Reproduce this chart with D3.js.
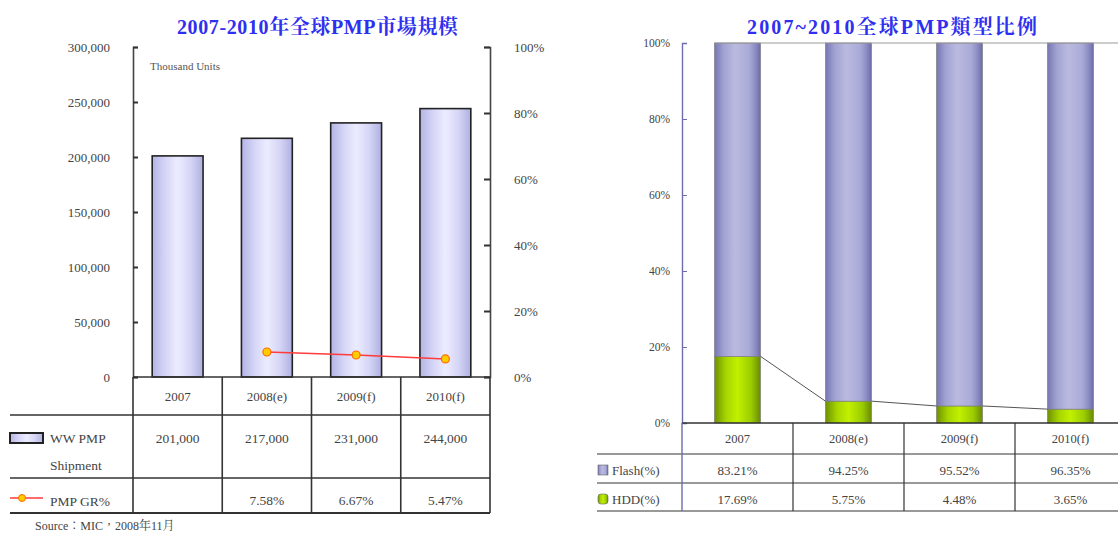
<!DOCTYPE html>
<html>
<head>
<meta charset="utf-8">
<script src="https://cdn.jsdelivr.net/npm/d3@7"></script>
<style>
  body { margin: 0; background: #fff; }
  text { font-family: "Liberation Serif", "Noto Serif CJK TC", "Noto Sans CJK TC", serif; }
</style>
</head>
<body>
<svg id="chart" width="1118" height="534"></svg>
<script>
// data
const years = ["2007", "2008(e)", "2009(f)", "2010(f)"];
const shipment = [201000, 217000, 231000, 244000];
const shipLabels = ["201,000", "217,000", "231,000", "244,000"];
const growth = [null, 7.58, 6.67, 5.47];
const growthLabels = ["", "7.58%", "6.67%", "5.47%"];
const flashPct = [83.21, 94.25, 95.52, 96.35];
const hddPct = [17.69, 5.75, 4.48, 3.65];
const shipTicks = [0, 50000, 100000, 150000, 200000, 250000, 300000];
const pctTicks = [0, 20, 40, 60, 80, 100];

const svg = d3.select("#chart");
const defs = svg.append("defs");

function hGrad(id, stops) {
  const g = defs.append("linearGradient").attr("id", id)
    .attr("x1", "0%").attr("x2", "100%").attr("y1", "0%").attr("y2", "0%");
  stops.forEach(s => g.append("stop").attr("offset", s[0]).attr("stop-color", s[1]));
}
hGrad("lavender", [["0%", "#b4b4e6"], ["25%", "#d4d4f6"], ["50%", "#ececff"], ["75%", "#d6d6f6"], ["100%", "#b0b0e2"]]);
hGrad("purple", [["0%", "#7676b4"], ["20%", "#a2a2d2"], ["45%", "#babae0"], ["75%", "#aaaad8"], ["90%", "#8a8ac2"], ["100%", "#6a6aa8"]]);
hGrad("green", [["0%", "#6f9000"], ["25%", "#a6d600"], ["50%", "#c2f000"], ["80%", "#9acc00"], ["100%", "#6a8a00"]]);

const txt = "#444";

/**
 * LEFT CHART: SHIPMENT + GROWTH
 */
const L = svg.append("g");

const xL = d3.scaleBand().domain(years).range([133, 490]).paddingInner(0.43).paddingOuter(0.215);
const yL = d3.scaleLinear().domain([0, 300000]).range([377, 47]);
const yR = d3.scaleLinear().domain([0, 100]).range([377, 47]);

L.append("text").attr("x", 177).attr("y", 34)
  .attr("textLength", 281).attr("lengthAdjust", "spacing")
  .attr("font-size", 20).attr("font-weight", "bold").attr("fill", "#2f2ff0")
  .text("2007-2010年全球PMP市場規模");

L.append("text").attr("x", 150).attr("y", 70).attr("font-size", 11).attr("fill", "#555")
  .text("Thousand Units");

// bars
L.selectAll("rect.ship").data(shipment).join("rect")
  .attr("class", "ship")
  .attr("x", (d, i) => xL(years[i]))
  .attr("y", d => yL(d))
  .attr("width", xL.bandwidth())
  .attr("height", d => yL(0) - yL(d))
  .attr("fill", "url(#lavender)")
  .attr("stroke", "#222").attr("stroke-width", 1.6);

// axes
const axL = L.append("g").attr("transform", "translate(133,0)")
  .call(d3.axisLeft(yL).tickValues(shipTicks).tickFormat(d3.format(",")).tickSizeInner(-5).tickSizeOuter(-5).tickPadding(23));
const axR = L.append("g").attr("transform", "translate(490,0)")
  .call(d3.axisRight(yR).tickValues(pctTicks).tickFormat(d => d + "%").tickSizeInner(-6).tickSizeOuter(-6).tickPadding(24));
[axL, axR].forEach(a => {
  a.select(".domain").attr("stroke", "#444").attr("stroke-width", 1.6);
  a.selectAll(".tick line").attr("stroke", "#333").attr("stroke-width", 2);
  a.selectAll("text").attr("font-size", 13).attr("fill", txt)
    .attr("font-family", "Liberation Serif, serif");
});

// growth line
const gPts = growth.map((g, i) => ({ g, x: xL(years[i]) + xL.bandwidth() / 2 })).filter(d => d.g != null);
L.append("path").datum(gPts)
  .attr("d", d3.line().x(d => d.x).y(d => yR(d.g)))
  .attr("fill", "none").attr("stroke", "#ff3b3b").attr("stroke-width", 1.5);
L.selectAll("circle.gr").data(gPts).join("circle")
  .attr("class", "gr")
  .attr("cx", d => d.x).attr("cy", d => yR(d.g)).attr("r", 4)
  .attr("fill", "#ffcc00").attr("stroke", "#ff6a00").attr("stroke-width", 1.2);

// table
const stepL = xL.step();
const colsL = d3.range(years.length + 1).map(i => 133 + i * stepL);
const rowsL = [377, 415, 478, 513];
L.selectAll("line.hrow").data(rowsL).join("line")
  .attr("x1", (d, i) => i === 0 ? 133 : 10).attr("x2", 490)
  .attr("y1", d => d).attr("y2", d => d)
  .attr("stroke", "#333").attr("stroke-width", (d, i) => i === 3 ? 2.2 : 1.6);
L.selectAll("line.vcol").data(colsL).join("line")
  .attr("x1", d => d).attr("x2", d => d).attr("y1", 377).attr("y2", 513)
  .attr("stroke", "#333").attr("stroke-width", 1.6);

const centerL = i => xL(years[i]) + xL.bandwidth() / 2;
L.selectAll("text.hdr").data(years).join("text")
  .attr("x", (d, i) => centerL(i)).attr("y", 401).attr("text-anchor", "middle")
  .attr("font-size", 13).attr("fill", txt).text(d => d);
L.selectAll("text.shipv").data(shipLabels).join("text")
  .attr("x", (d, i) => centerL(i)).attr("y", 443).attr("text-anchor", "middle")
  .attr("font-size", 13.5).attr("fill", txt).text(d => d);
L.selectAll("text.grv").data(growthLabels).join("text")
  .attr("x", (d, i) => centerL(i)).attr("y", 505).attr("text-anchor", "middle")
  .attr("font-size", 13.5).attr("fill", txt).text(d => d);

// legend in table
L.append("rect").attr("x", 10).attr("y", 433).attr("width", 33).attr("height", 10)
  .attr("fill", "url(#lavender)").attr("stroke", "#222").attr("stroke-width", 2);
L.append("text").attr("x", 50).attr("y", 443).attr("font-size", 13.5).attr("fill", txt).text("WW PMP");
L.append("text").attr("x", 50).attr("y", 470).attr("font-size", 13.5).attr("fill", txt).text("Shipment");
L.append("line").attr("x1", 10).attr("x2", 43).attr("y1", 498).attr("y2", 498)
  .attr("stroke", "#ff3b3b").attr("stroke-width", 1.5);
L.append("circle").attr("cx", 22).attr("cy", 498).attr("r", 3.5)
  .attr("fill", "#ffcc00").attr("stroke", "#ff6a00");
L.append("text").attr("x", 50).attr("y", 506).attr("font-size", 13.5).attr("fill", txt).text("PMP GR%");

L.append("text").attr("x", 35).attr("y", 530).attr("font-size", 12).attr("fill", txt)
  .text("Source：MIC，2008年11月");

/**
 * RIGHT CHART: FLASH / HDD SHARE
 */
const R = svg.append("g");

const xS = d3.scaleBand().domain(years).range([682, 1126]).paddingInner(0.585).paddingOuter(0.2925);
const yS = d3.scaleLinear().domain([0, 1]).range([423, 43]);

R.append("text").attr("x", 747).attr("y", 34)
  .attr("textLength", 290).attr("lengthAdjust", "spacing")
  .attr("font-size", 20).attr("font-weight", "bold").attr("fill", "#2f2ff0")
  .text("2007~2010全球PMP類型比例");

const rows = years.map((y, i) => ({ year: y, hdd: hddPct[i], flash: flashPct[i] }));
const stacked = d3.stack().keys(["hdd", "flash"]).offset(d3.stackOffsetExpand)(rows);
const fills = { hdd: "url(#green)", flash: "url(#purple)" };

R.selectAll("g.layer").data(stacked).join("g")
  .attr("class", "layer")
  .attr("fill", d => fills[d.key])
  .selectAll("rect").data(d => d).join("rect")
  .attr("x", d => xS(d.data.year))
  .attr("y", d => yS(d[1]))
  .attr("width", xS.bandwidth())
  .attr("height", d => yS(d[0]) - yS(d[1]))
  .attr("stroke", "#777").attr("stroke-width", 0.6);

// series lines between hdd tops
const hddTop = stacked[0];
const seg = d3.range(years.length - 1).map(i => ({
  x1: xS(years[i]) + xS.bandwidth(), y1: yS(hddTop[i][1]),
  x2: xS(years[i + 1]), y2: yS(hddTop[i + 1][1])
}));
R.selectAll("line.series").data(seg).join("line")
  .attr("x1", d => d.x1).attr("y1", d => d.y1).attr("x2", d => d.x2).attr("y2", d => d.y2)
  .attr("stroke", "#555").attr("stroke-width", 1);

// top border of plot
R.append("line").attr("x1", xS(years[0])).attr("x2", 1118).attr("y1", yS(1)).attr("y2", yS(1))
  .attr("stroke", "#999").attr("stroke-width", 1);

const axS = R.append("g").attr("transform", "translate(682,0)")
  .call(d3.axisLeft(yS).tickValues(pctTicks.map(d => d / 100)).tickFormat(d3.format(".0%")).tickSizeInner(-5).tickSizeOuter(-5).tickPadding(12));
axS.select(".domain").attr("stroke", "#6c6cae").attr("stroke-width", 1.4);
axS.selectAll(".tick line").attr("stroke", "#6c6cae");
axS.selectAll("text").attr("font-size", 11.5).attr("fill", txt).attr("font-family", "Liberation Serif, serif");

// table
const stepS = xS.step();
const colsS = d3.range(1, years.length).map(i => 682 + i * stepS);
const rowsS = [423, 454, 483, 511];
R.selectAll("line.hrow").data(rowsS).join("line")
  .attr("x1", (d, i) => i === 0 ? 682 : 597).attr("x2", 1118)
  .attr("y1", d => d).attr("y2", d => d)
  .attr("stroke", (d, i) => i === 0 ? "#333" : "#777").attr("stroke-width", (d, i) => i === 0 ? 1.6 : 1.4);
R.selectAll("line.vcol").data(colsS).join("line")
  .attr("x1", d => d).attr("x2", d => d).attr("y1", 423).attr("y2", 511)
  .attr("stroke", "#333").attr("stroke-width", 1.2);
R.append("line").attr("x1", 682).attr("x2", 682).attr("y1", 423).attr("y2", 511)
  .attr("stroke", "#6c6cae").attr("stroke-width", 1.4);

const centerS = i => xS(years[i]) + xS.bandwidth() / 2;
const fmtPct = d => d.toFixed(2) + "%";
R.selectAll("text.hdr").data(years).join("text")
  .attr("x", (d, i) => centerS(i)).attr("y", 443).attr("text-anchor", "middle")
  .attr("font-size", 12.5).attr("fill", txt).text(d => d);
R.selectAll("text.flv").data(flashPct).join("text")
  .attr("x", (d, i) => centerS(i)).attr("y", 475).attr("text-anchor", "middle")
  .attr("font-size", 13).attr("fill", txt).text(fmtPct);
R.selectAll("text.hdv").data(hddPct).join("text")
  .attr("x", (d, i) => centerS(i)).attr("y", 504).attr("text-anchor", "middle")
  .attr("font-size", 13).attr("fill", txt).text(fmtPct);

R.append("rect").attr("x", 598).attr("y", 465).attr("width", 10).attr("height", 10)
  .attr("fill", "url(#purple)").attr("stroke", "#666").attr("stroke-width", 0.6);
R.append("text").attr("x", 612).attr("y", 475).attr("font-size", 13).attr("fill", txt).text("Flash(%)");
R.append("rect").attr("x", 598).attr("y", 494).attr("width", 10).attr("height", 10).attr("rx", 3)
  .attr("fill", "url(#green)").attr("stroke", "#666").attr("stroke-width", 0.6);
R.append("text").attr("x", 612).attr("y", 504).attr("font-size", 13).attr("fill", txt).text("HDD(%)");
</script>
</body>
</html>
